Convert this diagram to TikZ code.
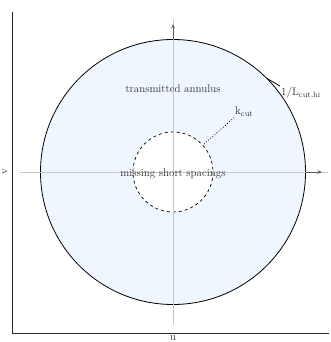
\documentclass[tikz,border=0pt]{standalone}
\usetikzlibrary{arrows.meta}
\definecolor{annulusfill}{RGB}{239,246,253}
\begin{document}
\begin{tikzpicture}[x=1pt,y=-1pt,
    frame/.style={black!85, line width=0.8pt},
    guide/.style={black!22, line width=0.6pt},
    quiver/.style={black!65, line width=0.8pt, -{Stealth[length=4.5pt,width=3.5pt]}},
    lbl/.style={text=black!80, font=\fontsize{11}{13}\selectfont, inner sep=1pt}]
  \useasboundingbox (0,0) rectangle (331,342);
  % uv-plane: centre of the annulus
  \coordinate (O) at (173,172);
  % transmitted annulus and the hole of missing short spacings
  \draw[fill=annulusfill, line width=0.8pt] (O) circle (132.5);
  \draw[fill=white, dashed, line width=0.7pt] (O) circle (40);
  % guide axes through the centre
  \coordinate (gl) at (20,172);
  \coordinate (gr) at (328,172);
  \coordinate (gt) at (173,19);
  \coordinate (gb) at (173,325);
  \draw[guide] (gl) -- (gr);
  \draw[guide] (gb) -- (gt);
  % arrows past the outer rim
  \coordinate (re) at (305.5,172);
  \coordinate (rt) at (322,172);
  \coordinate (te) at (173,39.5);
  \coordinate (tt) at (173,24);
  \draw[quiver] (re) -- (rt);
  \draw[quiver] (te) -- (tt);
  % frame
  \coordinate (c0) at (12,333);
  \coordinate (ytop) at (12,12);
  \coordinate (xend) at (329,333);
  \draw[frame] (ytop) -- (c0) -- (xend);
  \node[lbl, rotate=90] (vlab) at (5,172) {v};
  \node[lbl] (ulab) at (173,338.5) {u};
  % labels
  \node[lbl] (ann) at (173,89) {transmitted annulus};
  \node[lbl] (miss) at (173,174) {missing short spacings};
  \node[lbl, anchor=west] (kcut) at (234,112) {$\mathrm{k}_{\mathrm{cut}}$};
  \coordinate (kin) at (204,144);
  \draw[dotted, line width=0.8pt] (kin) -- (kcut.south west);
  \node[lbl, anchor=west] (lhi) at (280,93) {$1/\mathrm{L}_{\mathrm{cut,hi}}$};
  \coordinate (rim) at (267,78.5);
  \draw[line width=0.8pt] (rim) -- (lhi.north west);
\end{tikzpicture}
\end{document}
